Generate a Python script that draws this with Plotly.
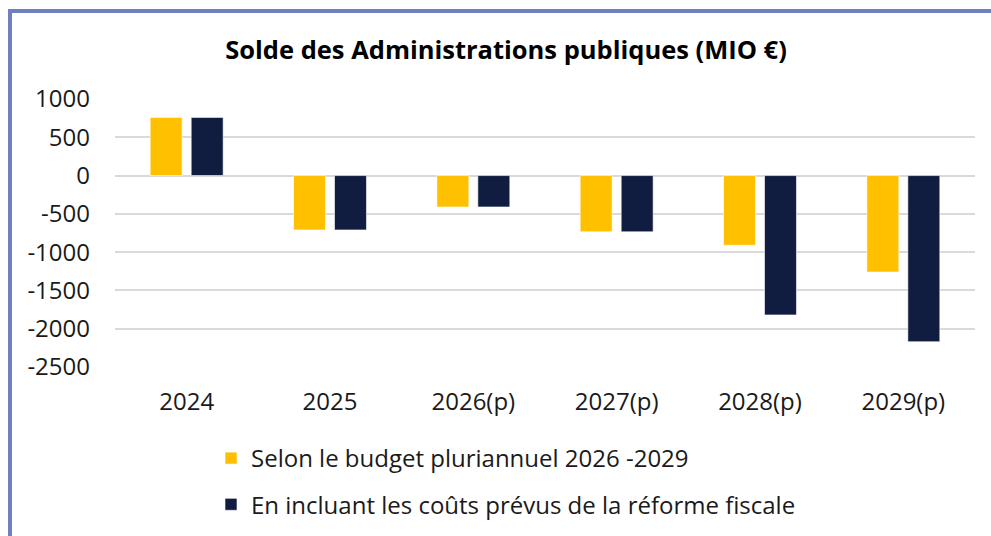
import plotly.graph_objects as go

categories = ["2024", "2025", "2026(p)", "2027(p)", "2028(p)", "2029(p)"]
budget = [760, -710, -410, -735, -910, -1260]
reforme = [760, -710, -410, -735, -1820, -2170]
series_names = ["Selon le budget pluriannuel 2026 -2029",
                "En incluant les coûts prévus de la réforme fiscale"]
tick_vals = [1000, 500, 0, -500, -1000, -1500, -2000, -2500]
tick_text = ["1000", "500", "0", "-500", "-1000", "-1500", "-2000", "-2500"]
title_text = "Solde des Administrations publiques (MIO €)"

W, H = 991, 536
L, R, T, B = 115, 16, 99, 169
pw, ph = W - L - R, H - T - B

def px_x(px):
    return (px - L) / pw

def px_y(py):
    return (H - B - py) / ph

FONT = "Open Sans"
TS = 24
fig = go.Figure()
fig.add_trace(go.Bar(x=categories, y=budget, name=series_names[0],
                     marker=dict(color="#FFC000", line=dict(color="#FFFFFF", width=0.6)),
                     legendgroup="a"))
fig.add_trace(go.Bar(x=categories, y=reforme, name=series_names[1],
                     marker=dict(color="#101D40", line=dict(color="#FFFFFF", width=0.6)),
                     legendgroup="b"))

fig.update_layout(
    width=W, height=H,
    margin=dict(l=L, r=R, t=T, b=B, pad=0, autoexpand=False),
    paper_bgcolor="white", plot_bgcolor="white",
    barmode="group", bargap=0.428, bargroupgap=0.22,
    font=dict(family=FONT, color="#1a1a1a", size=TS),
    title=dict(text="<b>" + title_text + "</b>", x=506 / W, xanchor="center",
               y=1 - 50 / H, yanchor="middle",
               font=dict(family=FONT, size=25.5, color="#000000")),
    showlegend=True,
    legend=dict(orientation="v", xref="container", yref="container",
                x=211 / W, xanchor="left",
                y=1 - 436 / H, yanchor="top", traceorder="grouped",
                tracegroupgap=12, font=dict(family=FONT, size=TS, color="#1a1a1a"),
                bgcolor="rgba(0,0,0,0)"),
    xaxis=dict(showgrid=False, showline=False, ticks="", ticklabelstandoff=18,
               tickfont=dict(family=FONT, size=TS, color="#1a1a1a")),
    yaxis=dict(range=[-2500, 1000], tickvals=tick_vals, ticktext=tick_text,
               showgrid=True,
               gridcolor="#D9D9D9", gridwidth=1.5, zeroline=True,
               zerolinecolor="#D9D9D9", zerolinewidth=1.5, showline=False,
               ticks="", ticklabelstandoff=24,
               tickfont=dict(family=FONT, size=TS, color="#1a1a1a")),
    shapes=[
        dict(type="line", xref="paper", yref="paper", x0=px_x(10), x1=px_x(10),
             y0=px_y(9), y1=px_y(560), line=dict(color="#6F7FBF", width=4)),
        dict(type="line", xref="paper", yref="paper", x0=px_x(8), x1=px_x(1000),
             y0=px_y(11), y1=px_y(11), line=dict(color="#6F7FBF", width=4)),
    ],
)

fig.write_html("out.html", config={"displayModeBar": False},
               post_script="document.body.style.margin='0';document.body.style.overflow='hidden';")
